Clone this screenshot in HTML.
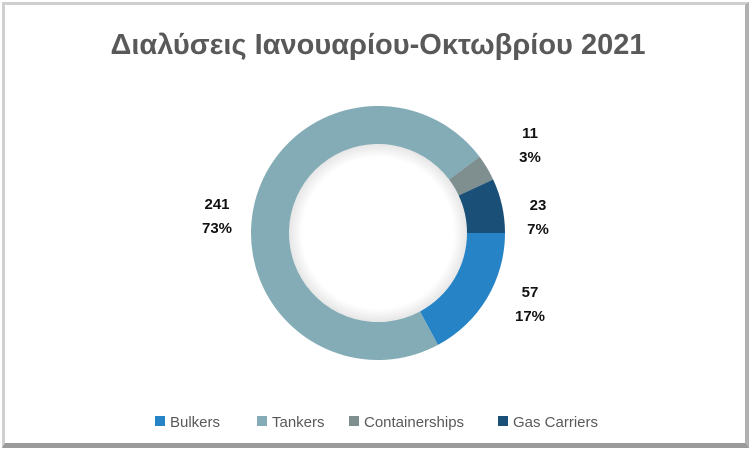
<!DOCTYPE html>
<html><head><meta charset="utf-8"><style>
html,body{margin:0;padding:0;background:#fff;}
#frame{position:absolute;left:2px;top:2px;width:747px;height:446px;box-sizing:border-box;border:3px solid #cfcfcf;border-bottom:5px solid #9a9a9a;border-right:4px solid #b0b0b0;background:#fff;}
text{font-family:"Liberation Sans",sans-serif;}
</style></head><body>
<div id="frame"></div>
<svg id="chart" width="755" height="455" style="position:absolute;left:0;top:0">
<defs><radialGradient id="sh" cx="50%" cy="50%" r="50%"><stop offset="85%" stop-color="#fff"/><stop offset="100%" stop-color="#e6e6e6"/></radialGradient></defs>
<text x="378" y="54" text-anchor="middle" font-size="29" font-weight="bold" fill="#595959">Διαλύσεις Ιανουαρίου-Οκτωβρίου 2021</text>
<circle cx="378" cy="233" r="89" fill="url(#sh)"/>
<g id="slices"></g><g id="labels"></g><g id="legend"></g>
</svg>
<script>
const categories=["Bulkers","Tankers","Containerships","Gas Carriers"];
const values=[57,241,11,23];
const percentLabels=["17%","73%","3%","7%"];
const colors=["#2683c6","#84acb6","#7f8f8f","#1a5078"];
const ns="http://www.w3.org/2000/svg";
const cx=378,cy=233,R=127,r=89;
const total=values.reduce((a,b)=>a+b,0);
const angle=v=>v/total*2*Math.PI;
const pt=(rad,a)=>[cx+rad*Math.cos(a),cy+rad*Math.sin(a)];
let a0=0;
const labelPos=[[530,300],[217,212],[530,141],[538,213]];
const sg=document.getElementById('slices'),lg=document.getElementById('labels'),leg=document.getElementById('legend');
values.forEach((v,i)=>{
  const a1=a0+angle(v);const large=(a1-a0)>Math.PI?1:0;
  const [x1,y1]=pt(R,a0),[x2,y2]=pt(R,a1),[x3,y3]=pt(r,a1),[x4,y4]=pt(r,a0);
  const p=document.createElementNS(ns,'path');
  p.setAttribute('d',`M${x1},${y1}A${R},${R} 0 ${large} 1 ${x2},${y2}L${x3},${y3}A${r},${r} 0 ${large} 0 ${x4},${y4}Z`);
  p.setAttribute('fill',colors[i]);
  
  
  sg.appendChild(p);
  const [lx,ly]=labelPos[i];
  [String(v),percentLabels[i]].forEach((s,k)=>{
    const t=document.createElementNS(ns,'text');
    t.setAttribute('x',lx);t.setAttribute('y',ly-3+k*24);
    t.setAttribute('text-anchor','middle');t.setAttribute('font-size','15');t.setAttribute('font-weight','bold');t.setAttribute('fill','#111');
    t.textContent=s;
    
    
    lg.appendChild(t);
  });
  a0=a1;
});
const legX=[155,257,349,498];
categories.forEach((c,i)=>{
  const g=document.createElementNS(ns,'g');
  
  
  const rc=document.createElementNS(ns,'rect');
  rc.setAttribute('x',legX[i]);rc.setAttribute('y',416);rc.setAttribute('width',10);rc.setAttribute('height',10);rc.setAttribute('fill',colors[i]);
  const t=document.createElementNS(ns,'text');
  t.setAttribute('x',legX[i]+15);t.setAttribute('y',427);t.setAttribute('font-size','15');t.setAttribute('fill','#595959');
  t.textContent=c;
  g.appendChild(rc);g.appendChild(t);leg.appendChild(g);
});
</script>
</body></html>
